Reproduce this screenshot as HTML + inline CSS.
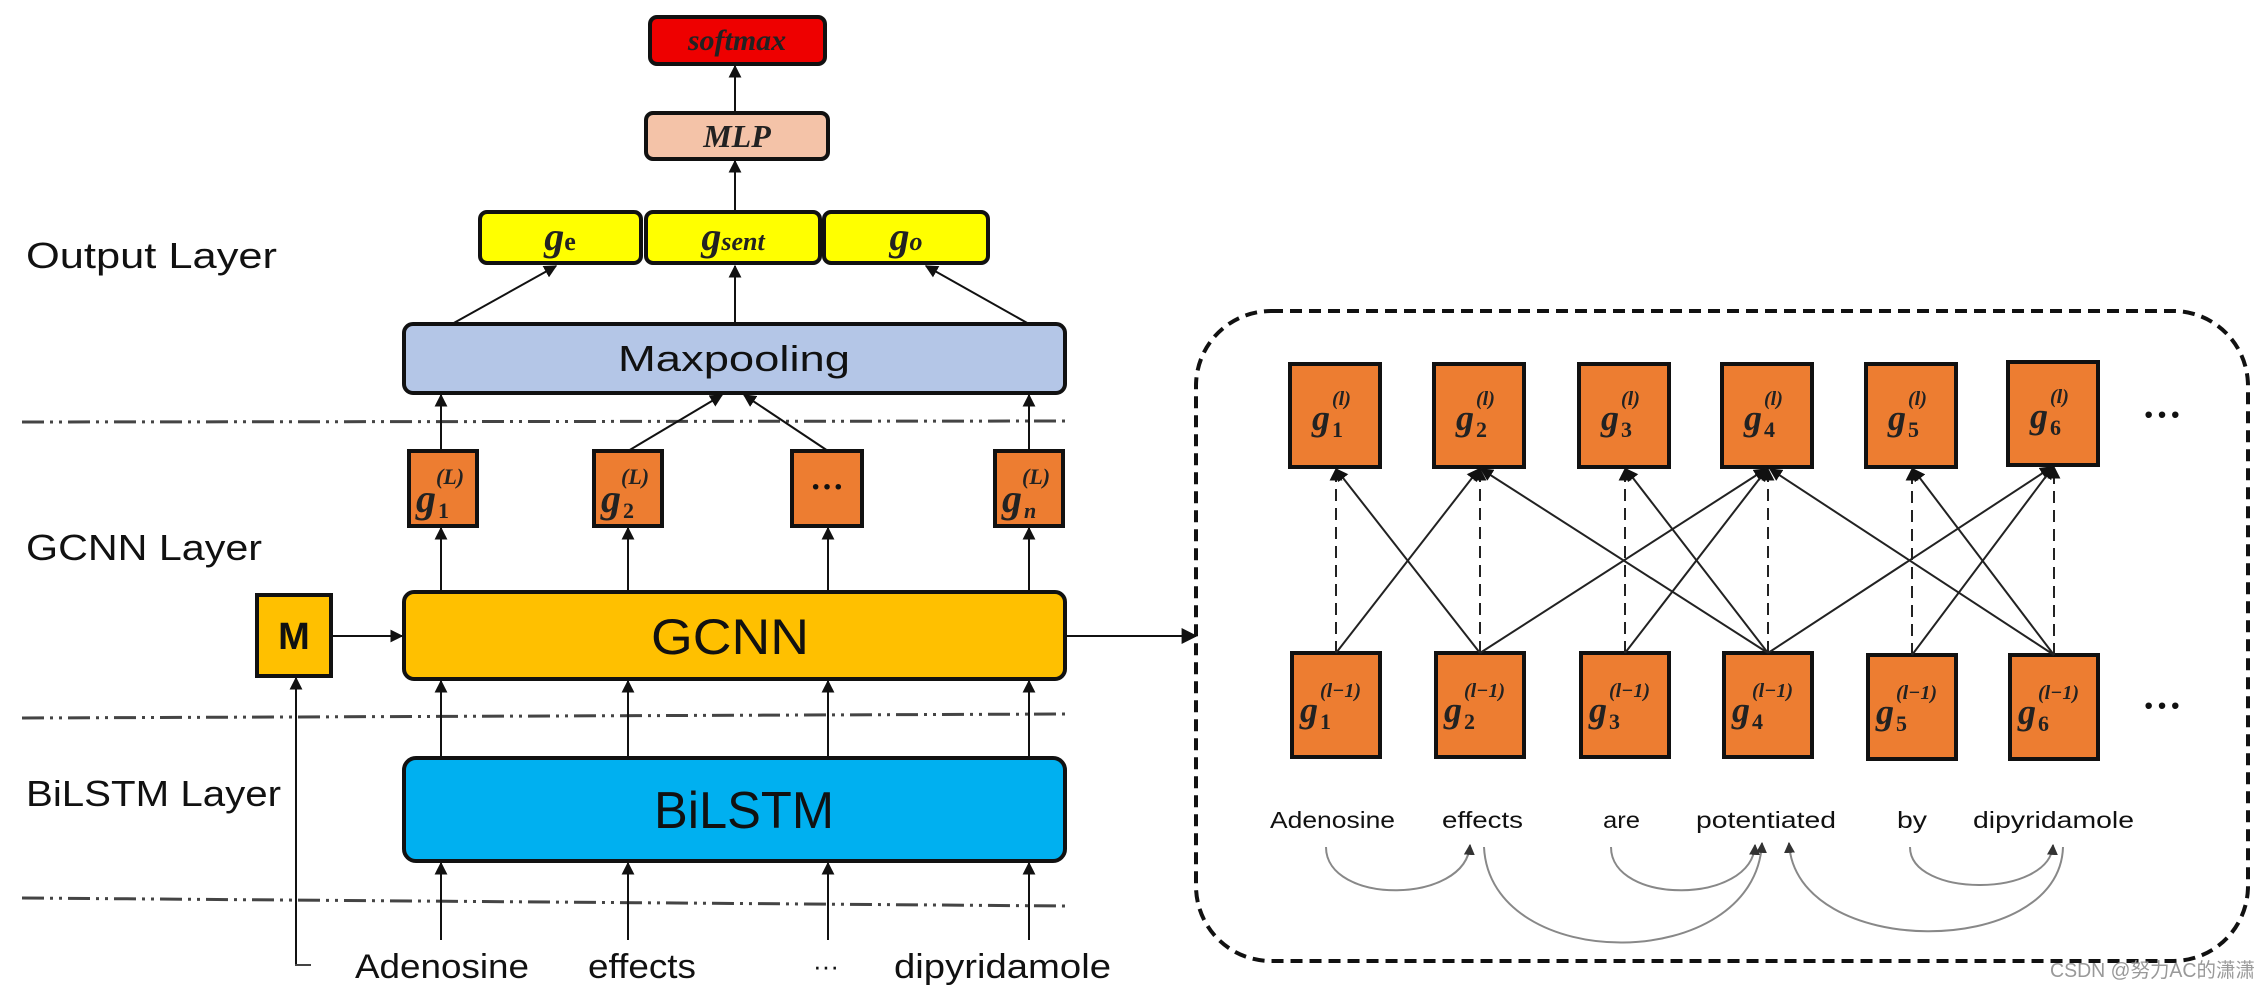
<!DOCTYPE html>
<html><head><meta charset="utf-8"><style>
html,body{margin:0;padding:0;background:#fff;}
svg{display:block;}
.lbl{font-family:"Liberation Sans",sans-serif;fill:#111;}
.m{font-family:"Liberation Serif",serif;font-style:italic;font-weight:bold;fill:#222;}
</style></head><body>
<svg width="2265" height="989" viewBox="0 0 2265 989" xmlns="http://www.w3.org/2000/svg">
<defs>
<marker id="a" viewBox="0 0 10 10" refX="9" refY="5" markerWidth="13" markerHeight="13" orient="auto" markerUnits="userSpaceOnUse"><path d="M0,0L10,5L0,10z" fill="#111"/></marker>
<marker id="a2" viewBox="0 0 10 10" refX="9" refY="5" markerWidth="16" markerHeight="16" orient="auto" markerUnits="userSpaceOnUse"><path d="M0,0L10,5L0,10z" fill="#111"/></marker>
<marker id="g" viewBox="0 0 10 10" refX="9" refY="5" markerWidth="11" markerHeight="11" orient="auto" markerUnits="userSpaceOnUse"><path d="M0,0L10,5L0,10z" fill="#333"/></marker>
</defs>

<text class="lbl" x="26" y="268" font-size="36" textLength="251" lengthAdjust="spacingAndGlyphs">Output Layer</text>
<text class="lbl" x="26" y="560" font-size="36" textLength="236" lengthAdjust="spacingAndGlyphs">GCNN Layer</text>
<text class="lbl" x="26" y="806" font-size="36" textLength="255" lengthAdjust="spacingAndGlyphs">BiLSTM Layer</text>

<g stroke="#444" stroke-width="3" stroke-dasharray="22,6,3,6,3,6" fill="none">
<line x1="22" y1="422" x2="1069" y2="421"/>
<line x1="22" y1="718" x2="1069" y2="714"/>
<line x1="22" y1="898" x2="1066" y2="906"/>
</g>

<rect x="650" y="17" width="175" height="47" rx="7" fill="#ee0000" stroke="#111" stroke-width="4"/>
<text class="m" x="737" y="50" font-size="30" text-anchor="middle" font-weight="normal" fill="#111">softmax</text>
<rect x="646" y="113" width="182" height="46" rx="7" fill="#f4c3a8" stroke="#111" stroke-width="4"/>
<text class="m" x="737" y="147" font-size="32" text-anchor="middle" font-weight="normal" fill="#111">MLP</text>
<rect x="480" y="212" width="161" height="51" rx="7" fill="#ffff00" stroke="#111" stroke-width="4"/>
<rect x="646" y="212" width="174" height="51" rx="7" fill="#ffff00" stroke="#111" stroke-width="4"/>
<rect x="824" y="212" width="164" height="51" rx="7" fill="#ffff00" stroke="#111" stroke-width="4"/>
<text class="m" x="560" y="250" font-size="40" text-anchor="middle" font-weight="normal" fill="#111">g<tspan font-size="26" font-style="normal">e</tspan></text>
<text class="m" x="733" y="250" font-size="40" text-anchor="middle" font-weight="normal" fill="#111">g<tspan font-size="26">sent</tspan></text>
<text class="m" x="906" y="250" font-size="40" text-anchor="middle" font-weight="normal" fill="#111">g<tspan font-size="26">o</tspan></text>

<rect x="404" y="324" width="661" height="69" rx="9" fill="#b4c6e7" stroke="#111" stroke-width="4"/>
<text class="lbl" x="734" y="371" font-size="36" text-anchor="middle" textLength="232" lengthAdjust="spacingAndGlyphs">Maxpooling</text>

<g fill="#ed7d31" stroke="#111" stroke-width="4">
<rect x="409" y="451" width="68" height="75"/>
<rect x="594" y="451" width="68" height="75"/>
<rect x="792" y="451" width="70" height="75"/>
<rect x="995" y="451" width="68" height="75"/>
</g>
<g class="m">
<text x="416" y="512" font-size="40">g</text><text x="438" y="518" font-size="22" font-style="normal">1</text><text x="436" y="484" font-size="22">(L)</text>
<text x="601" y="512" font-size="40">g</text><text x="623" y="518" font-size="22" font-style="normal">2</text><text x="621" y="484" font-size="22">(L)</text>
<text x="1002" y="512" font-size="40">g</text><text x="1024" y="518" font-size="22">n</text><text x="1022" y="484" font-size="22">(L)</text>
</g>
<text x="827" y="498" font-size="34" text-anchor="middle" font-family="Liberation Serif,serif" font-weight="bold" fill="#111">···</text>

<rect x="404" y="592" width="661" height="87" rx="10" fill="#ffc000" stroke="#111" stroke-width="4"/>
<text class="lbl" x="730" y="654" font-size="50" text-anchor="middle" textLength="158" lengthAdjust="spacingAndGlyphs">GCNN</text>
<rect x="257" y="595" width="74" height="81" fill="#ffc000" stroke="#111" stroke-width="4"/>
<text class="lbl" x="294" y="649" font-size="38" font-weight="bold" text-anchor="middle">M</text>

<rect x="404" y="758" width="661" height="103" rx="12" fill="#00b0f0" stroke="#111" stroke-width="4"/>
<text class="lbl" x="744" y="828" font-size="52" text-anchor="middle" textLength="180" lengthAdjust="spacingAndGlyphs">BiLSTM</text>

<text class="lbl" x="355" y="978" font-size="34" textLength="174" lengthAdjust="spacingAndGlyphs">Adenosine</text>
<text class="lbl" x="588" y="978" font-size="34" textLength="108" lengthAdjust="spacingAndGlyphs">effects</text>
<text class="lbl" x="813" y="975" font-size="26">···</text>
<text class="lbl" x="894" y="978" font-size="34" textLength="217" lengthAdjust="spacingAndGlyphs">dipyridamole</text>

<g stroke="#111" stroke-width="2" fill="none" marker-end="url(#a)">
<line x1="735" y1="113" x2="735" y2="66"/>
<line x1="735" y1="212" x2="735" y2="161"/>
<line x1="452" y1="324" x2="556" y2="266"/>
<line x1="735" y1="324" x2="735" y2="266"/>
<line x1="1029" y1="324" x2="926" y2="266"/>
<line x1="441" y1="451" x2="441" y2="395"/>
<line x1="628" y1="451" x2="722" y2="395"/>
<line x1="828" y1="451" x2="744" y2="395"/>
<line x1="1029" y1="451" x2="1029" y2="395"/>
<line x1="441" y1="592" x2="441" y2="528"/>
<line x1="628" y1="592" x2="628" y2="528"/>
<line x1="828" y1="592" x2="828" y2="528"/>
<line x1="1029" y1="592" x2="1029" y2="528"/>
<line x1="441" y1="758" x2="441" y2="681"/>
<line x1="628" y1="758" x2="628" y2="681"/>
<line x1="828" y1="758" x2="828" y2="681"/>
<line x1="1029" y1="758" x2="1029" y2="681"/>
<line x1="441" y1="940" x2="441" y2="863"/>
<line x1="628" y1="940" x2="628" y2="863"/>
<line x1="828" y1="940" x2="828" y2="863"/>
<line x1="1029" y1="940" x2="1029" y2="863"/>
<line x1="331" y1="636" x2="402" y2="636"/>
<line x1="296" y1="965" x2="296" y2="678"/>
<line x1="1065" y1="636" x2="1196" y2="636" marker-end="url(#a2)"/>
</g>
<line x1="295" y1="965" x2="311" y2="965" stroke="#444" stroke-width="2"/>

<rect x="1196" y="311" width="1052" height="650" rx="75" fill="none" stroke="#111" stroke-width="4" stroke-dasharray="12,7"/>

<g fill="#ed7d31" stroke="#111" stroke-width="4">
<rect x="1290" y="364" width="90" height="103"/><rect x="1434" y="364" width="90" height="103"/><rect x="1579" y="364" width="90" height="103"/><rect x="1722" y="364" width="90" height="103"/><rect x="1866" y="364" width="90" height="103"/><rect x="2008" y="362" width="90" height="103"/>
<rect x="1292" y="653" width="88" height="104"/><rect x="1436" y="653" width="88" height="104"/><rect x="1581" y="653" width="88" height="104"/><rect x="1724" y="653" width="88" height="104"/><rect x="1868" y="655" width="88" height="104"/><rect x="2010" y="655" width="88" height="104"/>
</g>
<g class="m">
<text x="1312" y="430" font-size="36">g</text><text x="1332" y="437" font-size="22" font-style="normal">1</text><text x="1332" y="405" font-size="20">(l)</text>
<text x="1456" y="430" font-size="36">g</text><text x="1476" y="437" font-size="22" font-style="normal">2</text><text x="1476" y="405" font-size="20">(l)</text>
<text x="1601" y="430" font-size="36">g</text><text x="1621" y="437" font-size="22" font-style="normal">3</text><text x="1621" y="405" font-size="20">(l)</text>
<text x="1744" y="430" font-size="36">g</text><text x="1764" y="437" font-size="22" font-style="normal">4</text><text x="1764" y="405" font-size="20">(l)</text>
<text x="1888" y="430" font-size="36">g</text><text x="1908" y="437" font-size="22" font-style="normal">5</text><text x="1908" y="405" font-size="20">(l)</text>
<text x="2030" y="428" font-size="36">g</text><text x="2050" y="435" font-size="22" font-style="normal">6</text><text x="2050" y="403" font-size="20">(l)</text>
<text x="1300" y="722" font-size="36">g</text><text x="1320" y="729" font-size="22" font-style="normal">1</text><text x="1320" y="697" font-size="20">(l−1)</text>
<text x="1444" y="722" font-size="36">g</text><text x="1464" y="729" font-size="22" font-style="normal">2</text><text x="1464" y="697" font-size="20">(l−1)</text>
<text x="1589" y="722" font-size="36">g</text><text x="1609" y="729" font-size="22" font-style="normal">3</text><text x="1609" y="697" font-size="20">(l−1)</text>
<text x="1732" y="722" font-size="36">g</text><text x="1752" y="729" font-size="22" font-style="normal">4</text><text x="1752" y="697" font-size="20">(l−1)</text>
<text x="1876" y="724" font-size="36">g</text><text x="1896" y="731" font-size="22" font-style="normal">5</text><text x="1896" y="699" font-size="20">(l−1)</text>
<text x="2018" y="724" font-size="36">g</text><text x="2038" y="731" font-size="22" font-style="normal">6</text><text x="2038" y="699" font-size="20">(l−1)</text>
</g>
<text x="2162" y="428" font-size="40" text-anchor="middle" font-weight="bold" font-family="Liberation Serif,serif" fill="#111">···</text>
<text x="2162" y="719" font-size="40" text-anchor="middle" font-weight="bold" font-family="Liberation Serif,serif" fill="#111">···</text>

<g stroke="#222" stroke-width="2" fill="none" marker-end="url(#a)">
<g stroke-dasharray="12,7">
<line x1="1336" y1="653" x2="1336" y2="469"/><line x1="1480" y1="653" x2="1480" y2="469"/><line x1="1625" y1="653" x2="1625" y2="469"/><line x1="1768" y1="653" x2="1768" y2="469"/><line x1="1912" y1="655" x2="1912" y2="469"/><line x1="2054" y1="655" x2="2054" y2="467"/>
</g>
<line x1="1336" y1="653" x2="1479" y2="469"/>
<line x1="1480" y1="653" x2="1336" y2="469"/>
<line x1="1480" y1="653" x2="1766" y2="469"/>
<line x1="1625" y1="653" x2="1767" y2="469"/>
<line x1="1768" y1="653" x2="1481" y2="469"/>
<line x1="1768" y1="653" x2="1626" y2="469"/>
<line x1="1768" y1="653" x2="2052" y2="467"/>
<line x1="1912" y1="655" x2="2053" y2="467"/>
<line x1="2054" y1="655" x2="1770" y2="469"/>
<line x1="2054" y1="655" x2="1913" y2="469"/>
</g>

<g class="lbl" font-size="23" fill="#222">
<text x="1270" y="828" textLength="125" lengthAdjust="spacingAndGlyphs">Adenosine</text>
<text x="1442" y="828" textLength="81" lengthAdjust="spacingAndGlyphs">effects</text>
<text x="1603" y="828" textLength="37" lengthAdjust="spacingAndGlyphs">are</text>
<text x="1696" y="828" textLength="140" lengthAdjust="spacingAndGlyphs">potentiated</text>
<text x="1897" y="828" textLength="30" lengthAdjust="spacingAndGlyphs">by</text>
<text x="1973" y="828" textLength="161" lengthAdjust="spacingAndGlyphs">dipyridamole</text>
</g>

<g stroke="#888" stroke-width="2" fill="none" marker-end="url(#g)">
<path d="M1326,847 C1326,905 1466,905 1470,845"/>
<path d="M1484,847 C1490,975 1755,975 1762,843"/>
<path d="M1611,847 C1611,905 1752,905 1755,845"/>
<path d="M2063,847 C2060,960 1795,960 1789,843"/>
<path d="M1910,847 C1910,898 2050,898 2053,845"/>
</g>

<text x="2050" y="977" font-size="20" textLength="205" lengthAdjust="spacingAndGlyphs" font-family="Liberation Sans,Noto Sans CJK SC,sans-serif" fill="#999">CSDN @努力AC的潇潇</text>
</svg>
</body></html>
